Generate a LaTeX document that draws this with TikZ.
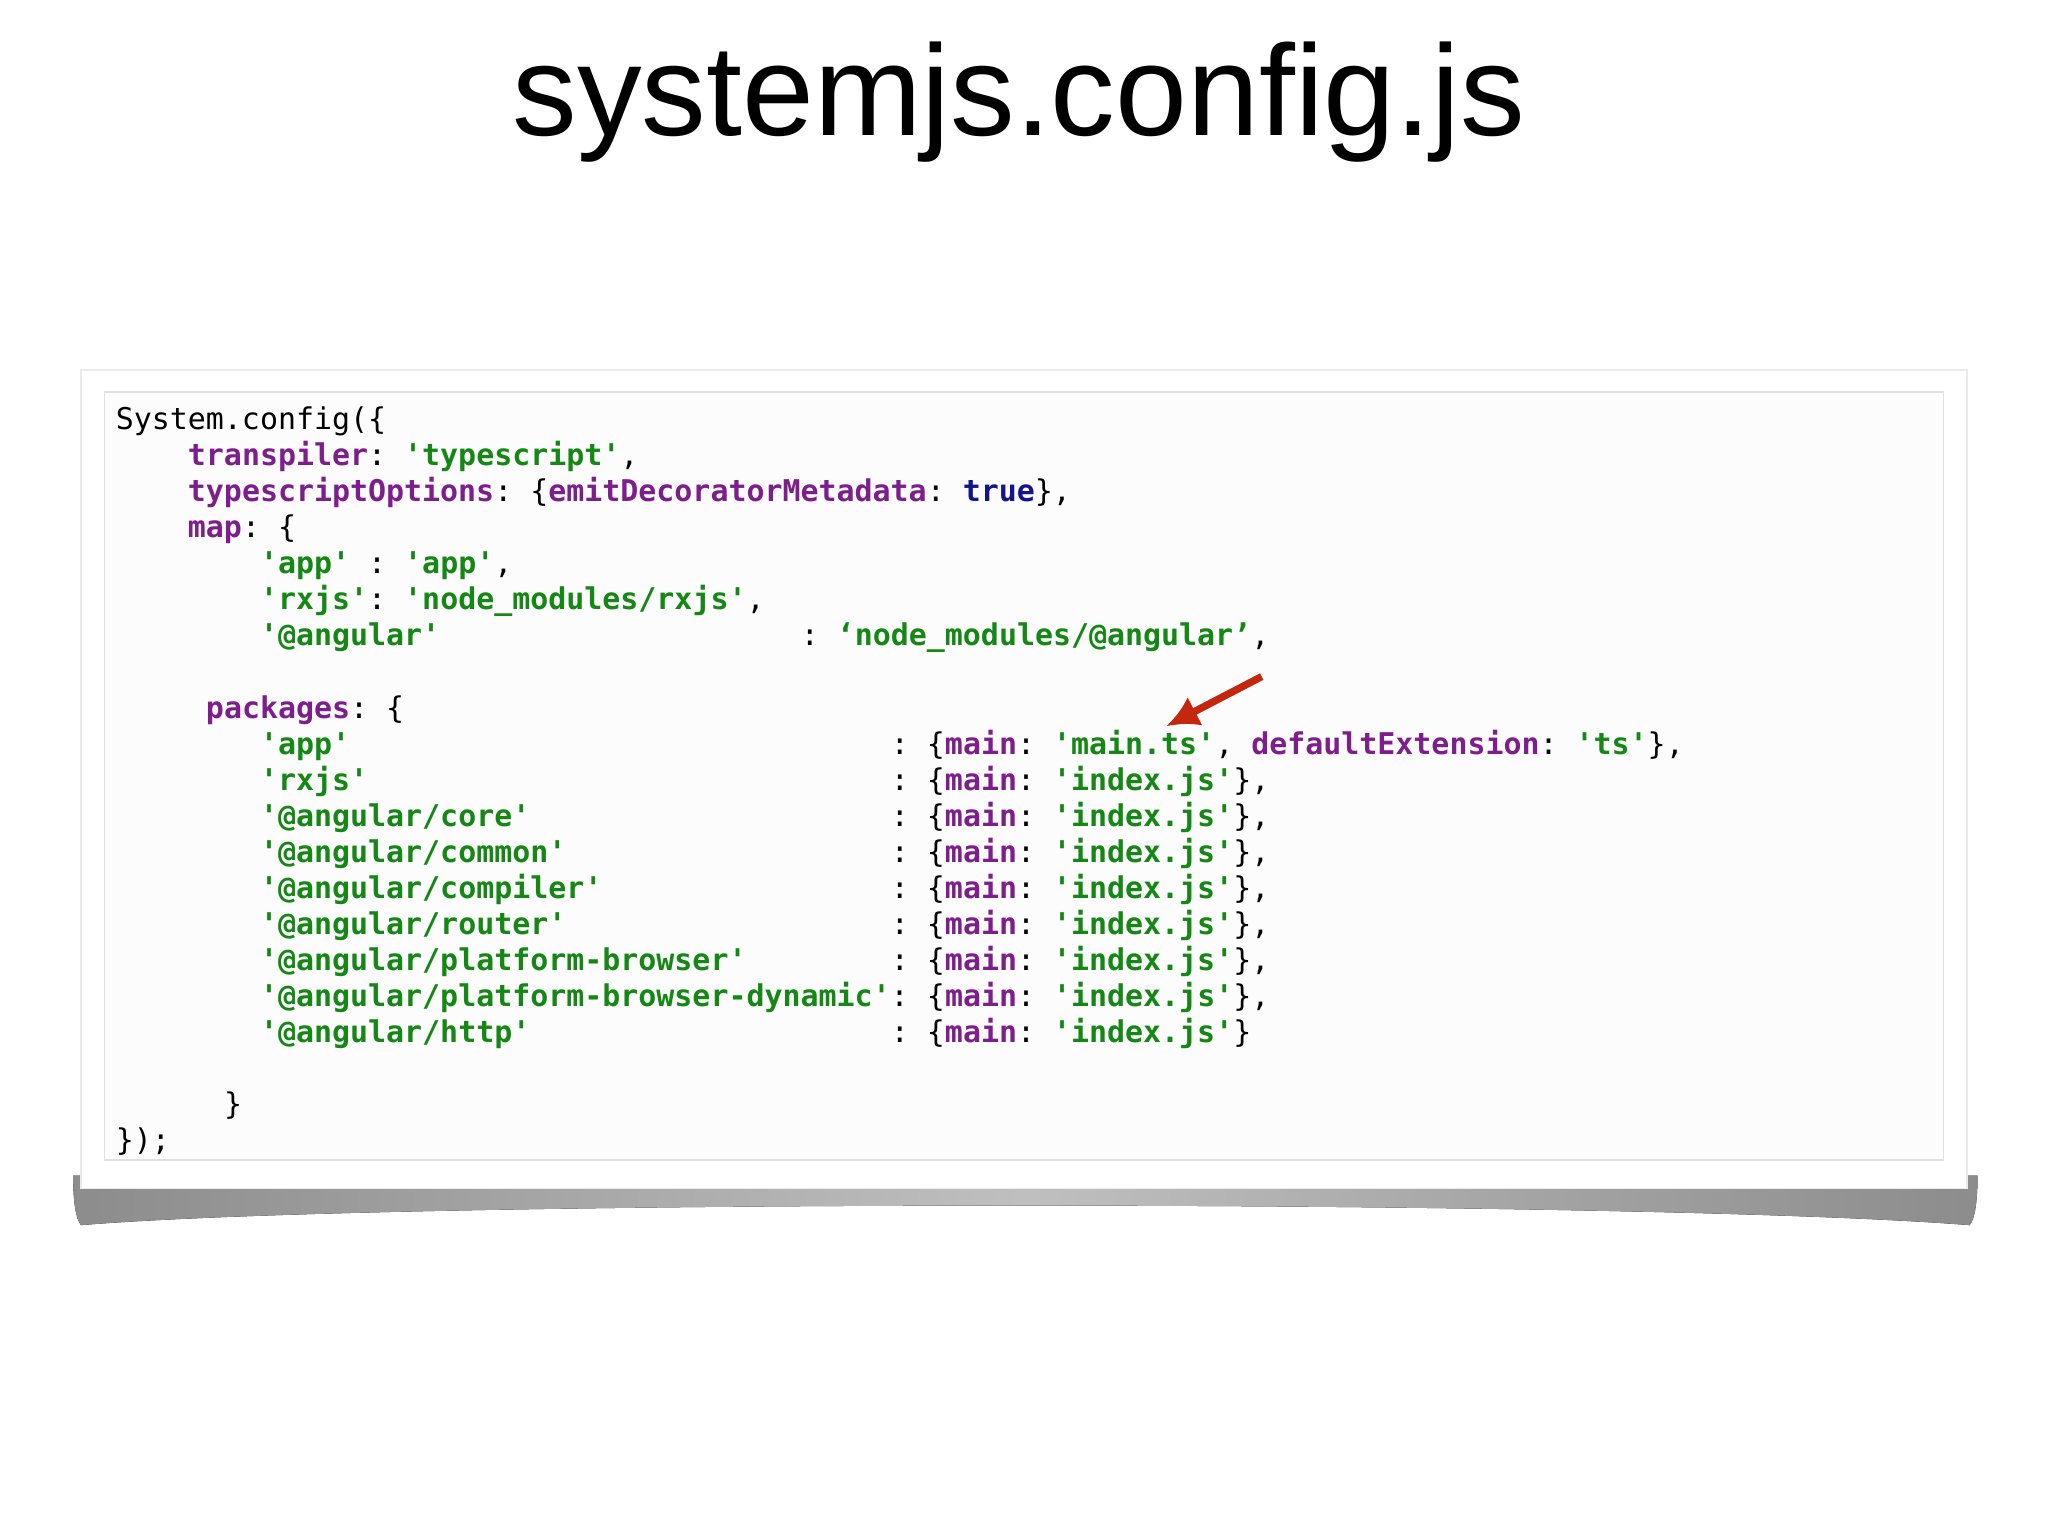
\documentclass[tikz,border=0pt]{standalone}
\usepackage{fontspec}
\usetikzlibrary{arrows.meta}
\setsansfont{Liberation Sans}
\setmonofont{DejaVu Sans Mono}
\definecolor{kp}{RGB}{125,30,140}
\definecolor{kg}{RGB}{20,135,20}
\definecolor{kn}{RGB}{20,20,140}
\definecolor{kr}{RGB}{195,40,15}
\newcommand\Pk[1]{\textbf{\color{kp}#1}}
\newcommand\Gs[1]{\textbf{\color{kg}#1}}
\newcommand\Nv[1]{\textbf{\color{kn}#1}}
\newcommand\cl[3]{\node[codeline] (l#2x#1) at ({0.88+#1*0.138},{-3.29-#2*0.276}) {#3};}
\tikzset{codeline/.style={anchor=base west,inner sep=0pt,font=\ttfamily\fontsize{6.52pt}{7.8pt}\selectfont}}
\begin{document}
\begin{tikzpicture}
\useasboundingbox (0,0) rectangle (15.68,-11.76);
\fill[white] (0,0) rectangle (15.68,-11.76);
\node (title) at (7.8,-0.78) {\resizebox{7.75cm}{!}{\sffamily\fontsize{30pt}{36pt}\selectfont systemjs.config.js}};
% shadow
\fill[left color=black!45,right color=black!45,middle color=black!25] (0.56,-9.0) .. controls (0.56,-9.2) and (0.58,-9.33) .. (0.62,-9.38)
  .. controls (3,-9.18) and (12.6,-9.18) .. (15.08,-9.38)
  .. controls (15.12,-9.33) and (15.14,-9.2) .. (15.14,-9.0) -- cycle;
\fill[white,draw=black!8] (0.62,-2.83) rectangle (15.06,-9.10);
\draw[black!12,fill=black!1] (0.80,-3.00) rectangle (14.88,-8.88);
\cl{0}{0}{System.config(\{}
\cl{4}{1}{\Pk{transpiler}: \Gs{'typescript'},}
\cl{4}{2}{\Pk{typescriptOptions}: \{\Pk{emitDecoratorMetadata}: \Nv{true}\},}
\cl{4}{3}{\Pk{map}: \{}
\cl{8}{4}{\Gs{'app'} : \Gs{'app'},}
\cl{8}{5}{\Gs{'rxjs'}: \Gs{'node\_modules/rxjs'},}
\cl{8}{6}{\Gs{'@angular'}}
\cl{38}{6}{: \Gs{‘node\_modules/@angular’},}
\cl{5}{8}{\Pk{packages}: \{}
\cl{8}{9}{\Gs{'app'}}
\cl{43}{9}{: \{\Pk{main}: \Gs{'main.ts'}, \Pk{defaultExtension}: \Gs{'ts'}\},}
\cl{8}{10}{\Gs{'rxjs'}}
\cl{43}{10}{: \{\Pk{main}: \Gs{'index.js'}\},}
\cl{8}{11}{\Gs{'@angular/core'}}
\cl{43}{11}{: \{\Pk{main}: \Gs{'index.js'}\},}
\cl{8}{12}{\Gs{'@angular/common'}}
\cl{43}{12}{: \{\Pk{main}: \Gs{'index.js'}\},}
\cl{8}{13}{\Gs{'@angular/compiler'}}
\cl{43}{13}{: \{\Pk{main}: \Gs{'index.js'}\},}
\cl{8}{14}{\Gs{'@angular/router'}}
\cl{43}{14}{: \{\Pk{main}: \Gs{'index.js'}\},}
\cl{8}{15}{\Gs{'@angular/platform-browser'}}
\cl{43}{15}{: \{\Pk{main}: \Gs{'index.js'}\},}
\cl{8}{16}{\Gs{'@angular/platform-browser-dynamic'}:}
\cl{45}{16}{\{\Pk{main}: \Gs{'index.js'}\},}
\cl{8}{17}{\Gs{'@angular/http'}}
\cl{43}{17}{: \{\Pk{main}: \Gs{'index.js'}\}}
\cl{6}{19}{\}}
\cl{0}{20}{\});}
\coordinate (as) at (9.66,-5.18);
\coordinate (ae) at (8.93,-5.56);
\draw[kr,line width=1.6pt,-{Latex[length=7pt,width=7pt]}] (as) -- (ae);
\end{tikzpicture}
\end{document}
